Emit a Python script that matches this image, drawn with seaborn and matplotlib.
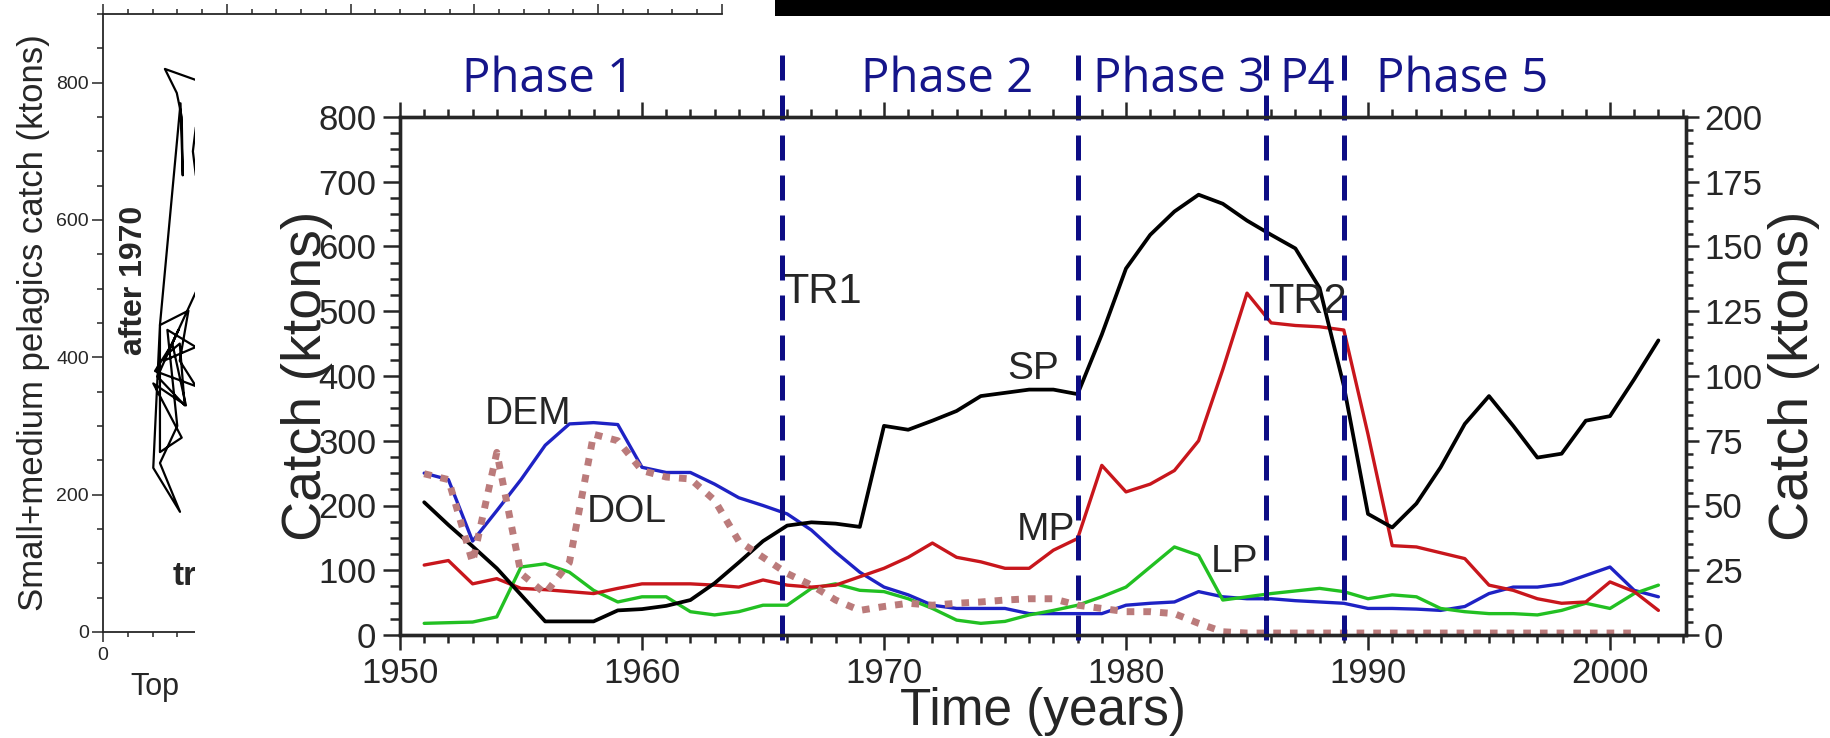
import numpy as np
import pandas as pd
import matplotlib
matplotlib.use("Agg")
import matplotlib.pyplot as plt
import matplotlib.transforms as mtransforms
from matplotlib.patches import Rectangle
from matplotlib.ticker import MultipleLocator
from matplotlib import font_manager as fm
import seaborn as sns

# ---------------- data ----------------
years = list(range(1951, 2003))
sp = [205, 170, 137, 103, 62, 21, 21, 21, 38, 40,
      45, 54, 80, 112, 145, 169, 174, 172, 167, 323,
      317, 331, 346, 369, 374, 379, 379, 372, 464, 566,
      618, 654, 680, 666, 640, 618, 597, 536, 385, 187,
      166, 203, 259, 326, 369, 323, 274, 280, 331, 338,
      395, 455]
mp = [108, 115, 79, 87, 72, 70, 67, 64, 72, 79,
      79, 79, 77, 74, 85, 77, 74, 77, 90, 103,
      120, 142, 120, 113, 103, 103, 131, 149, 262, 221,
      233, 254, 300, 410, 528, 482, 478, 476, 471, 310,
      138, 136, 127, 118, 77, 69, 56, 49, 51, 82,
      67, 38]
lp = [18, 19, 20, 28, 105, 110, 97, 69, 51, 59,
      59, 36, 31, 36, 46, 46, 72, 79, 69, 67,
      56, 41, 23, 18, 21, 31, 38, 46, 59, 74,
      105, 136, 123, 54, 59, 64, 68, 72, 67, 56,
      62, 59, 41, 36, 33, 33, 31, 38, 49, 41,
      64, 77]
dem = [250, 240, 145, 192, 240, 293, 326, 328, 325, 259,
       251, 251, 233, 212, 200, 187, 162, 128, 97, 74,
       62, 46, 41, 41, 41, 33, 33, 33, 33, 46,
       49, 51, 67, 59, 56, 56, 53, 51, 49, 41,
       41, 40, 38, 44, 64, 74, 74, 79, 92, 105,
       69, 59]
dol_years = list(range(1951, 2002))
dol = [249, 240, 112, 282, 95, 64, 112, 310, 300, 254,
       244, 241, 208, 145, 120, 95, 77, 54, 38, 44,
       49, 46, 49, 51, 54, 56, 56, 46, 41, 36,
       36, 33, 18, 5, 3, 3, 3, 3, 3, 3,
       3, 3, 3, 3, 3, 3, 3, 3, 3, 3,
       3]
phase_labels = ["Phase 1", "Phase 2", "Phase 3", "P4", "Phase 5"]
transitions = [1965.8, 1978.0, 1985.8, 1989.0]
transition_labels = ["TR1", "TR2"]
series_labels = ["SP", "MP", "LP", "DEM", "DOL"]

# left (partly hidden) panel: trajectory
traj_x = [60, 25.0, 29.8, 31.8, 32.2, 31.3, 23.0, 34.5, 31.0, 37.5, 21.0, 28.0,
          33.5, 20.3, 31.8, 23.0, 23.0, 20.3, 31.1, 23.0, 30.0, 26.0, 37.5,
          24.5, 30.5, 22.0, 33.0, 31.0, 26.0, 37.5, 60, 60, 37.5, 36.3, 37.5, 60]
traj_y = [775, 820, 785, 750, 665, 770, 447, 468, 395, 358, 380, 420,
          330, 362, 283, 262, 447, 239, 175, 246, 300, 440, 415,
          395, 440, 372, 330, 420, 405, 495, 510, 745, 735, 700, 665, 655]

df = pd.DataFrame({"Year": years, "SP": sp, "MP": mp, "LP": lp, "DEM": dem})
df_dol = pd.DataFrame({"Year": dol_years, "DOL": dol})

# ---------------- style ----------------
sns.set_style("ticks")
plt.rcParams["font.family"] = ["Liberation Sans", "DejaVu Sans"]
names = {f.name for f in fm.fontManager.ttflist}
phase_font = "Open Sans" if "Open Sans" in names else "DejaVu Sans"

W, H = 1830, 738
fig = plt.figure(figsize=(W / 100, H / 100), dpi=100)

# ---------------- left partial panel ----------------
axL = fig.add_axes([103 / W, 1 - 632 / H, 619 / W, 618 / H])
axL.set_zorder(0)
sns.lineplot(x=traj_x, y=traj_y, sort=False, estimator=None, color="black",
             lw=1.6, ax=axL)
axL.set_xlim(0, 250)
axL.set_ylim(0, 900)
axL.xaxis.set_major_locator(MultipleLocator(50))
axL.xaxis.set_minor_locator(MultipleLocator(10))
axL.yaxis.set_major_locator(MultipleLocator(200))
axL.yaxis.set_minor_locator(MultipleLocator(50))
axL.tick_params(axis="both", which="both", direction="out", width=1.1,
                labelsize=14, top=True, right=False)
axL.tick_params(axis="x", which="major", length=7, pad=4)
axL.tick_params(axis="x", which="minor", length=3.5)
axL.tick_params(axis="y", which="major", length=8, pad=2)
axL.tick_params(axis="y", which="minor", length=4)
axL.spines["right"].set_visible(False)
for s in ["left", "top", "bottom"]:
    axL.spines[s].set_linewidth(1.3)
axL.set_xlabel("")
axL.set_ylabel("Small+medium pelagics catch (ktons)", fontsize=25)
axL.yaxis.set_label_coords(-0.0856, 0.5)
axL.text(12.5, 512, "after 1970", rotation=90, fontweight="bold", fontsize=23,
         ha="center", va="center")
axL.text(28.3, 68, "tr", fontweight="bold", fontsize=24, ha="left", va="baseline")
axL.text(0.0436, -0.102, "Top", fontsize=22, ha="left", va="baseline",
         transform=axL.transAxes, clip_on=False)

# white cover and black bar
fig.add_artist(Rectangle((195 / W, 0), 1 - 195 / W, 1 - 19 / H,
                         transform=fig.transFigure, facecolor="white",
                         edgecolor="none", zorder=1))
fig.add_artist(Rectangle((775 / W, 1 - 16 / H), 1 - 775 / W, 16 / H,
                         transform=fig.transFigure, facecolor="black",
                         edgecolor="none", zorder=5))

# ---------------- main panel ----------------
ax = fig.add_axes([400 / W, 1 - 635 / H, 1286 / W, 518 / H])
ax.set_zorder(2)
ax.patch.set_alpha(0)

sns.lineplot(data=df, x="Year", y="DEM", color="#1e22c4", lw=2.4, ax=ax)
sns.lineplot(data=df, x="Year", y="LP", color="#22c022", lw=2.4, ax=ax)
sns.lineplot(data=df, x="Year", y="MP", color="#c8161c", lw=2.4, ax=ax)
sns.lineplot(data=df, x="Year", y="SP", color="black", lw=2.7, ax=ax)
sns.lineplot(data=df_dol, x="Year", y="DOL", color="#bb7b7b", lw=5,
             linestyle=(0, (1.1, 1.3)), dash_capstyle="butt", ax=ax)

navy = "#0d0d85"
for x in transitions:
    ax.axvline(x, ymin=-0.01, ymax=1.125, color=navy, lw=3.6,
               linestyle=(0, (5, 3)), clip_on=False, zorder=6)

ax.set_xlim(1950, 1950 + 1286 / 24.2)
ax.set_ylim(0, 800)
ax.xaxis.set_major_locator(MultipleLocator(10))
ax.xaxis.set_minor_locator(MultipleLocator(1))
ax.yaxis.set_major_locator(MultipleLocator(100))
ax.yaxis.set_minor_locator(MultipleLocator(25))
ax.tick_params(axis="x", which="both", direction="out", top=True, bottom=True,
               width=1.8, labelsize=25)
ax.tick_params(axis="x", which="major", length=11, pad=5)
ax.tick_params(axis="x", which="minor", length=6)
ax.tick_params(axis="y", which="both", direction="out", left=True, right=False,
               width=1.8, labelsize=25)
ax.tick_params(axis="y", which="major", length=12, pad=5)
ax.tick_params(axis="y", which="minor", length=7)
for s in ax.spines.values():
    s.set_linewidth(2.4)

ax.set_xlabel("Time (years)", fontsize=37)
ax.xaxis.set_label_coords(0.5, -0.1004)
ax.set_ylabel("Catch (ktons)", fontsize=40)
ax.yaxis.set_label_coords(-0.052, 0.5)

ax2 = ax.twinx()
ax2.set_zorder(3)
ax2.patch.set_visible(False)
ax2.set_ylim(0, 200)
ax2.yaxis.set_major_locator(MultipleLocator(25))
ax2.yaxis.set_minor_locator(MultipleLocator(5))
ax2.tick_params(axis="y", which="both", direction="out", width=1.8, labelsize=25)
ax2.tick_params(axis="y", which="major", length=9, pad=4)
ax2.tick_params(axis="y", which="minor", length=5)
for s in ax2.spines.values():
    s.set_linewidth(2.4)
ax2.set_ylabel("Catch (ktons)", fontsize=40)
ax2.yaxis.set_label_coords(1.0638, 0.5)

# phase labels above the frame
trans = mtransforms.blended_transform_factory(ax.transData, ax.transAxes)
phase_x = [1956.1, 1972.6, 1982.2, 1987.5, 1993.9]
for x, lab in zip(phase_x, phase_labels):
    ax.text(x, 1.048, lab, transform=trans, ha="center", va="baseline",
            fontsize=34, color="#15158a", family=phase_font, clip_on=False)

# transition & series labels
ax.text(1965.85, 512, transition_labels[0], fontsize=30, ha="left", va="baseline")
ax.text(1985.87, 497, transition_labels[1], fontsize=30, ha="left", va="baseline")
label_pos = [(1975.1, 395), (1975.5, 146), (1983.5, 97), (1953.5, 326), (1957.7, 174)]
for (x, y), lab in zip(label_pos, series_labels):
    ax.text(x, y, lab, fontsize=28, ha="left", va="baseline")

fig.savefig("out.png", dpi=100)
